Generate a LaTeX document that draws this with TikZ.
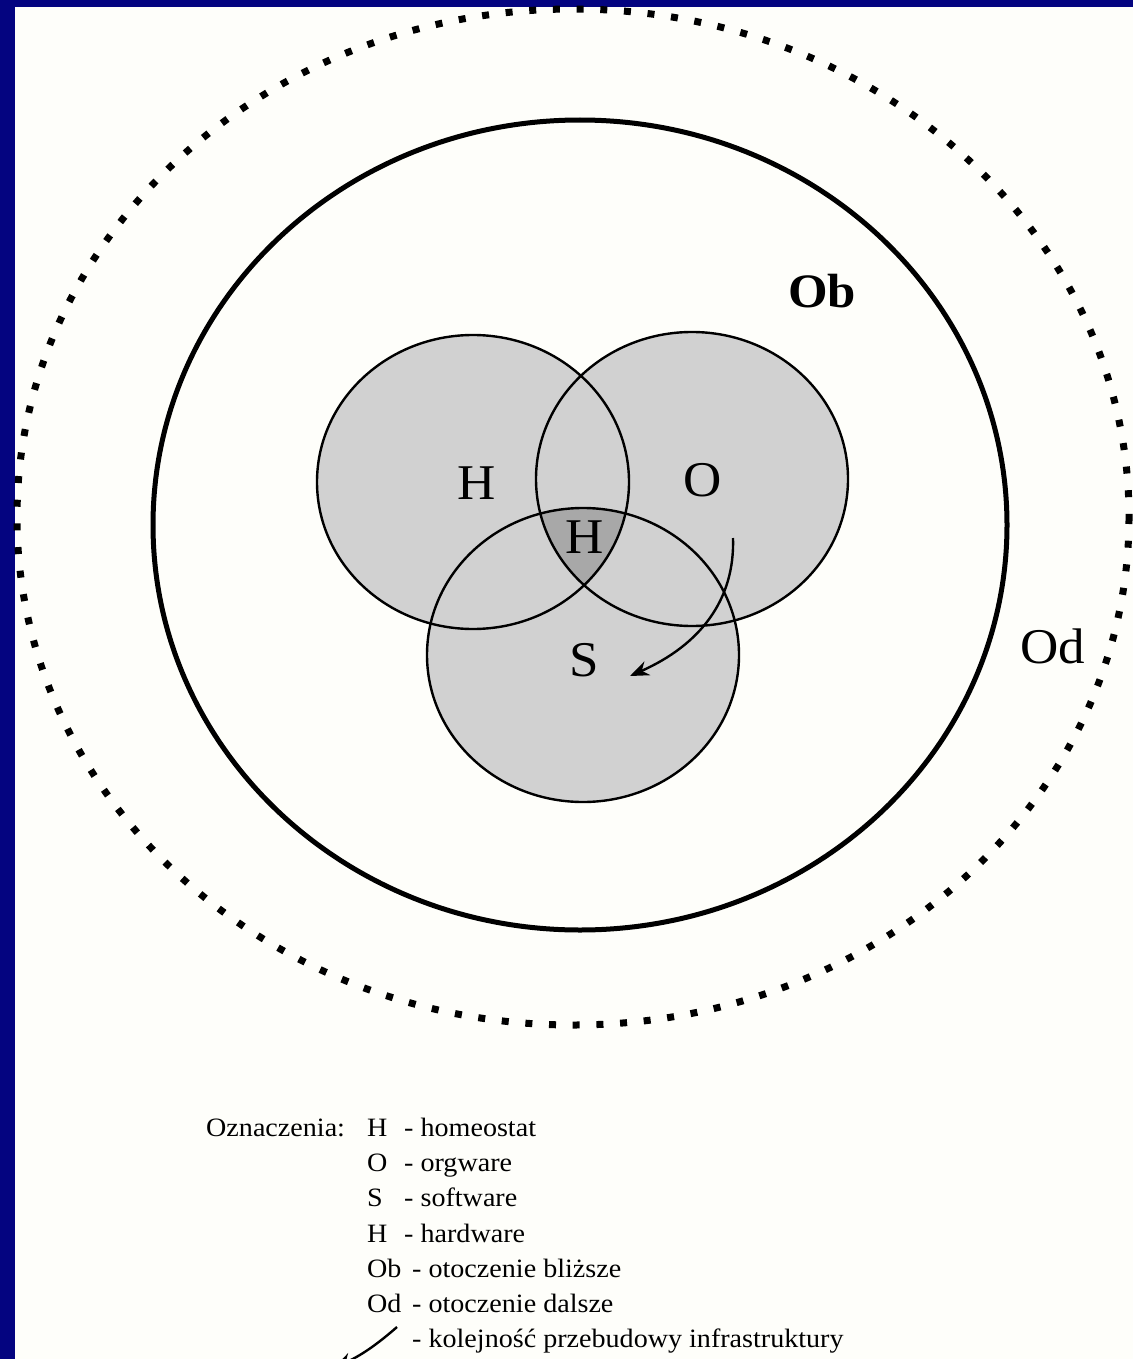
\documentclass[tikz,border=0pt]{standalone}
\usepackage{fontspec}
\setmainfont{Liberation Serif}
\usepackage{tikz}
\usetikzlibrary{arrows.meta,positioning}
\definecolor{navy}{RGB}{4,4,128}
\definecolor{paper}{RGB}{254,254,250}
\tikzstyle{ring}=[line width=2.4pt, draw=black]
\tikzstyle{big}=[inner sep=0, xscale=1.06, font=\fontsize{50}{50}\selectfont]
\tikzstyle{leg}=[inner sep=0, anchor=base west, xscale=1.06,
                 font=\fontsize{26.5}{30}\selectfont]
\tikzstyle{flow}=[line width=2.4pt, -{Stealth[length=19pt,width=15pt]}]

\begin{document}
\begin{tikzpicture}[x=1pt,y=-1pt]
\useasboundingbox (0,0) rectangle (1133,1359);
\clip (0,0) rectangle (1133,1359);
\fill[navy] (0,0) rectangle (1133,1359);
\fill[paper] (15,7) rectangle (1133,1359);

% Od and Ob
\draw[line width=7pt, dash pattern=on 7pt off 16.7pt]
  (573,517) ellipse [x radius=556, y radius=508];
\draw[line width=5pt] (580,525) ellipse [x radius=427, y radius=405];

% the three circles
\coordinate (ch) at (473,482);
\coordinate (co) at (692,479);
\coordinate (cs) at (583,655);
\fill[black!18] (ch) ellipse [x radius=156, y radius=147]
                (co) ellipse [x radius=156, y radius=147]
                (cs) ellipse [x radius=156, y radius=147];
\begin{scope}
  \clip (ch) ellipse [x radius=156, y radius=147];
  \clip (co) ellipse [x radius=156, y radius=147];
  \fill[black!34] (cs) ellipse [x radius=156, y radius=147];
\end{scope}
\draw[ring] (ch) ellipse [x radius=156, y radius=147];
\draw[ring] (co) ellipse [x radius=156, y radius=147];
\draw[ring] (cs) ellipse [x radius=156, y radius=147];

\node[big] (h) at (477,483) {H};
\node[big] (o) at (703,480) {O};
\node[big] (hc) at (585,537) {H};
\node[big] (s) at (584,660) {S};
\node[big, font=\fontsize{48}{48}\selectfont\bfseries] (ob) at (822,291) {Ob};
\node[big] (od) at (1053,646) {Od};

\coordinate (a1) at (733,538);
\coordinate (a2) at (630,676);
\draw[flow] (a1) .. controls (735,600) and (700,645) .. (a2);

% legend
\node[leg] (lg) at (206,1136) {Oznaczenia:};
\node[leg] (k1) at (367,1136) {H};
\node[leg] (d1) at (404,1136) {- homeostat};
\node[leg] (k2) at (367,1171) {O};
\node[leg] (d2) at (404,1171) {- orgware};
\node[leg] (k3) at (367,1206) {S};
\node[leg] (d3) at (404,1206) {- software};
\node[leg] (k4) at (367,1242) {H};
\node[leg] (d4) at (404,1242) {- hardware};
\node[leg] (k5) at (367,1277) {Ob};
\node[leg] (d5) at (412,1277) {- otoczenie bliższe};
\node[leg] (k6) at (367,1312) {Od};
\node[leg] (d6) at (412,1312) {- otoczenie dalsze};
\node[leg] (d7) at (412,1347) {- kolejność przebudowy infrastruktury};
\coordinate (l1) at (397,1327);
\coordinate (l2) at (334,1368);
\draw[flow] (l1) to[bend left=8] (l2);
\end{tikzpicture}
\end{document}
